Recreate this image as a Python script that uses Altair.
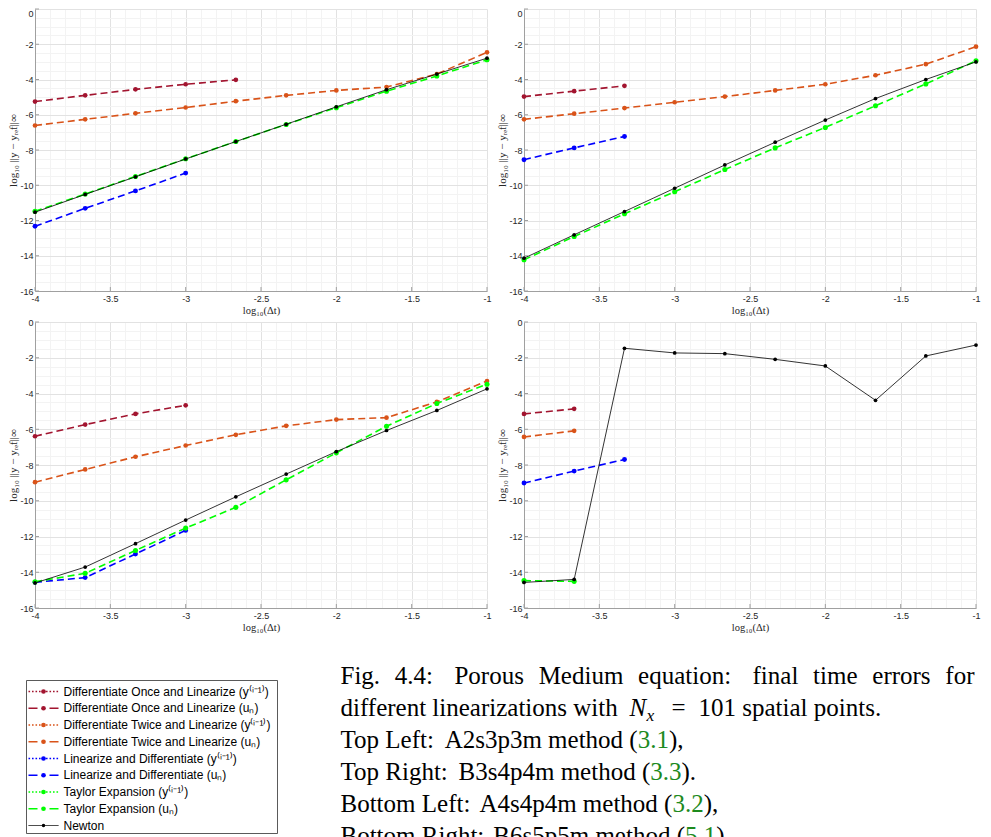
import altair as alt
import pandas as pd

# ---------------- data ----------------
LOG_DT = [-4.0, -3.667, -3.333, -3.0, -2.667, -2.333, -2.0, -1.667, -1.333, -1.0]

TL_ONCE = [-5.25, -4.90, -4.56, -4.27, -4.02]
TL_TWICE = [-6.61, -6.26, -5.92, -5.59, -5.23, -4.90, -4.62, -4.43, -3.69, -2.46]
TL_LIN = [-12.33, -11.31, -10.32, -9.31]
TL_TAYLOR = [-11.48, -10.50, -9.50, -8.50, -7.52, -6.55, -5.60, -4.66, -3.80, -2.88]
TL_NEWTON = [-11.53, -10.52, -9.52, -8.51, -7.52, -6.54, -5.55, -4.58, -3.69, -2.79]

TR_ONCE = [-4.97, -4.66, -4.36]
TR_TWICE = [-6.26, -5.94, -5.62, -5.29, -4.97, -4.62, -4.27, -3.76, -3.13, -2.14]
TR_LIN = [-8.55, -7.88, -7.23]
TR_TAYLOR = [-14.23, -12.91, -11.62, -10.37, -9.11, -7.88, -6.72, -5.49, -4.25, -2.94]
TR_NEWTON = [-14.14, -12.81, -11.49, -10.17, -8.85, -7.56, -6.30, -5.08, -4.00, -3.00]

BL_ONCE = [-6.39, -5.74, -5.14, -4.66]
BL_TWICE = [-8.96, -8.25, -7.54, -6.91, -6.31, -5.81, -5.46, -5.35, -4.47, -3.30]
BL_LIN = [-14.56, -14.30, -12.98, -11.66]
BL_TAYLOR = [-14.53, -14.06, -12.78, -11.53, -10.37, -8.83, -7.32, -5.83, -4.56, -3.48]
BL_NEWTON = [-14.60, -13.71, -12.40, -11.08, -9.78, -8.51, -7.25, -6.07, -4.95, -3.74]

BR_ONCE = [-5.14, -4.86]
BR_TWICE = [-6.43, -6.09]
BR_LIN = [-9.01, -8.34, -7.69]
BR_TAYLOR = [-14.47, -14.51]
BR_NEWTON = [-14.57, -14.40, -1.47, -1.73, -1.77, -2.09, -2.46, -4.38, -1.90, -1.29]

C_ONCE = "#A2142F"
C_TWICE = "#D95319"
C_LIN = "#0000FF"
C_TAYLOR = "#00FF00"
C_NEWTON = "#000000"

LEGEND_LABELS = [
    "Differentiate Once and Linearize (y\u207d\u2071\u207b\u00b9\u207e)",
    "Differentiate Once and Linearize (u\u2099)",
    "Differentiate Twice and Linearize (y\u207d\u2071\u207b\u00b9\u207e)",
    "Differentiate Twice and Linearize (u\u2099)",
    "Linearize and Differentiate (y\u207d\u2071\u207b\u00b9\u207e)",
    "Linearize and Differentiate (u\u2099)",
    "Taylor Expansion (y\u207d\u2071\u207b\u00b9\u207e)",
    "Taylor Expansion (u\u2099)",
    "Newton",
]
LEGEND_COLORS = [C_ONCE, C_ONCE, C_TWICE, C_TWICE, C_LIN, C_LIN, C_TAYLOR, C_TAYLOR, C_NEWTON]
LEGEND_STYLES = ["dot", "dash", "dot", "dash", "dot", "dash", "dot", "dash", "solid"]

CAP_LINE1 = ["Fig.", "4.4:", "Porous", "Medium", "equation:", "final", "time", "errors", "for"]
CAP_LINE2 = ["different linearizations with", "N", "x", "=", "101 spatial points."]
CAP_LINES = [
    ("Top Left:", "A2s3p3m method (", "3.1", "),"),
    ("Top Right:", "B3s4p4m method (", "3.3", ")."),
    ("Bottom Left:", "A4s4p4m method (", "3.2", "),"),
    ("Bottom Right:", "B6s5p5m method (", "5.1", ")."),
]
CITE_GREEN = "#1d8a1d"

# ---------------- layout ----------------
W, H1, H = 452, 282, 286
X0, Y0 = 35.5, 8.5              # image coordinates of the first plot's corner
ROW3_Y0 = Y0 + H1 + 31 + H + 31  # top of third grid row (image coords)

AX = "#a0a0a0"
LBL = "#262626"

XGRID = [round(-4 + 0.1 * i, 1) for i in range(31)]
YGRID = [-16 + 0.5 * i for i in range(33)]
XMAJ = [-4, -3.5, -3, -2.5, -2, -1.5, -1]
YMAJ = [-16, -14, -12, -10, -8, -6, -4, -2, 0]

x_major_test = "abs(datum.value*2 - round(datum.value*2)) < 0.001"
y_major_test = "datum.value % 2 === 0"

NOVIEW = {"stroke": "transparent", "strokeWidth": 0}

xaxis = alt.Axis(
    values=XGRID,
    labelExpr=f"{x_major_test} ? '' + datum.value : ''",
    gridColor={"condition": {"test": x_major_test, "value": "#e2e2e2"}, "value": "#f3f3f3"},
    grid=True, ticks=False, tickSize=0,
    domainColor=AX, domainWidth=1,
    labelFont="Liberation Sans", labelFontSize=9, labelColor=LBL, labelPadding=3,
    labelOverlap=False, labelFlush=False, labelBound=False,
    title="log\u2081\u2080(\u0394t)", titleFont="Liberation Serif", titleFontSize=10.5,
    titleFontWeight="normal", titleColor=LBL, titlePadding=2,
)


def make_yaxis(top_row):
    kw = {}
    if top_row:
        kw["labelOffset"] = {"condition": {"test": "datum.value === 0", "value": 4}, "value": 0}
    return alt.Axis(
        values=YGRID,
        labelExpr=f"{y_major_test} ? '' + datum.value : ''",
        gridColor={"condition": {"test": y_major_test, "value": "#e2e2e2"}, "value": "#f3f3f3"},
        grid=True, ticks=False, tickSize=0,
        domainColor=AX, domainWidth=1,
        labelFont="Liberation Sans", labelFontSize=9, labelColor=LBL, labelPadding=2,
        labelOverlap=False, labelFlush=False, labelBound=False,
        title="log\u2081\u2080 ||y \u2212 y\u1d63\u2091f||\u221e", titleFont="Liberation Serif",
        titleFontSize=11, titleFontWeight="normal", titleColor=LBL, titlePadding=1,
        **kw,
    )


xs = alt.Scale(domain=[-4, -1], nice=False, zero=False)
ys = alt.Scale(domain=[-16, 0], nice=False, zero=False)


def make_panel(once, twice, lin, taylor, newton, top_row):
    h = H1 if top_row else H
    yaxis = make_yaxis(top_row)

    def X():
        return alt.X("x:Q", scale=xs, axis=xaxis)

    def Y():
        return alt.Y("y:Q", scale=ys, axis=yaxis)

    layers = [
        alt.Chart(pd.DataFrame({"x": XMAJ})).mark_rule(color=AX, strokeWidth=1).encode(
            x=X(), y=alt.value(h), y2=alt.value(h - 4)),
        alt.Chart(pd.DataFrame({"y": YMAJ})).mark_rule(color=AX, strokeWidth=1).encode(
            y=Y(), x=alt.value(0), x2=alt.value(4)),
    ]
    for vals, color, sz in [(once, C_ONCE, 22), (twice, C_TWICE, 22), (lin, C_LIN, 24), (taylor, C_TAYLOR, 26)]:
        df = pd.DataFrame({"x": LOG_DT[:len(vals)], "y": vals})
        base = alt.Chart(df)
        layers.append(base.mark_line(color=color, strokeDash=[7, 4], strokeWidth=1.6).encode(x=X(), y=Y()))
        layers.append(base.mark_point(filled=True, color=color, size=sz, opacity=1).encode(x=X(), y=Y()))
    df = pd.DataFrame({"x": LOG_DT[:len(newton)], "y": newton})
    base = alt.Chart(df)
    layers.append(base.mark_line(color=C_NEWTON, strokeWidth=0.8).encode(x=X(), y=Y()))
    layers.append(base.mark_point(filled=True, color=C_NEWTON, size=14, opacity=1).encode(x=X(), y=Y()))
    return alt.layer(*layers).properties(width=W, height=h, view=NOVIEW)


p1 = make_panel(TL_ONCE, TL_TWICE, TL_LIN, TL_TAYLOR, TL_NEWTON, True)
p2 = make_panel(TR_ONCE, TR_TWICE, TR_LIN, TR_TAYLOR, TR_NEWTON, True)
p3 = make_panel(BL_ONCE, BL_TWICE, BL_LIN, BL_TAYLOR, BL_NEWTON, False)
p4 = make_panel(BR_ONCE, BR_TWICE, BR_LIN, BR_TAYLOR, BR_NEWTON, False)

# ---------------- legend + caption (third row) ----------------
def rx(v):
    return v - X0


def ry(v):
    return v - ROW3_Y0


LEG_BOX = (27, 680, 278, 833)
LEG_ROW0, LEG_STEP = 691, 16.75
LEG_L0, LEG_L1, LEG_DOT, LEG_TXT = 29, 59, 44, 64

box_df = pd.DataFrame({"x": [rx(LEG_BOX[0])], "x2": [rx(LEG_BOX[2])],
                       "y": [ry(LEG_BOX[1])], "y2": [ry(LEG_BOX[3])]})
leg_rows = []
for i, (lab, col, sty) in enumerate(zip(LEGEND_LABELS, LEGEND_COLORS, LEGEND_STYLES)):
    yy = ry(LEG_ROW0 + LEG_STEP * i)
    leg_rows.append({"label": lab, "color": col, "style": sty, "y": yy,
                     "xa": rx(LEG_L0), "xb": rx(LEG_L1), "xd": rx(LEG_DOT), "xt": rx(LEG_TXT),
                     "size": 12 if sty == "solid" else 22})
leg_df = pd.DataFrame(leg_rows)


def PX(f):
    return alt.X(f, scale=None, axis=None)


def PY(f):
    return alt.Y(f, scale=None, axis=None)


legend_layers = [
    alt.Chart(box_df).mark_rect(fill="white", stroke="#303030", strokeWidth=0.8).encode(
        x=PX("x:Q"), x2="x2:Q", y=PY("y:Q"), y2="y2:Q"),
]
for sty, dash, wid in [("dot", [1.6, 1.9], 1.6), ("dash", [9, 12], 1.6), ("solid", [1, 0], 0.9)]:
    legend_layers.append(
        alt.Chart(leg_df).transform_filter(alt.datum.style == sty).mark_rule(strokeDash=dash, strokeWidth=wid).encode(
            x=PX("xa:Q"), x2="xb:Q", y=PY("y:Q"), color=alt.Color("color:N", scale=None)))
legend_layers.append(
    alt.Chart(leg_df).mark_point(filled=True, opacity=1).encode(
        x=PX("xd:Q"), y=PY("y:Q"), color=alt.Color("color:N", scale=None), size=alt.Size("size:Q", scale=None)))
legend_layers.append(
    alt.Chart(leg_df).mark_text(font="Liberation Sans", fontSize=12, align="left", baseline="middle", color="#000000").encode(
        x=PX("xt:Q"), y=PY("y:Q"), text="label:N"))

# caption (Times metrics; Liberation Serif is metric compatible)
TIMES = {" ": 250, ".": 250, ",": 250, ":": 278, "(": 333, ")": 333, "=": 564}
for c, w in zip("ABCDEFGHIJKLMNOPQRSTUVWXYZ",
                [722, 667, 667, 722, 611, 556, 722, 722, 333, 389, 722, 611, 889, 722, 722, 556, 722, 667, 556, 611, 722, 722, 944, 722, 722, 611]):
    TIMES[c] = w
for c, w in zip("abcdefghijklmnopqrstuvwxyz",
                [444, 500, 444, 500, 444, 333, 500, 500, 278, 278, 500, 278, 778, 500, 500, 500, 500, 333, 389, 278, 500, 500, 722, 500, 500, 444]):
    TIMES[c] = w
for c in "0123456789":
    TIMES[c] = 500


def tw(s, fs):
    return sum(TIMES.get(c, 500) for c in s) * fs / 1000.0


FS = 25
CAP_X0, CAP_X1 = 341, 975
BASE = [683 + 32 * i for i in range(6)]

segs = []
isegs = []
# line 1 (justified)
wsum = sum(tw(w, FS) for w in CAP_LINE1)
weights = [1.45 if CAP_LINE1[i].endswith(":") else 1.0 for i in range(len(CAP_LINE1) - 1)]
unit = (CAP_X1 - CAP_X0 - wsum) / sum(weights)
xx = CAP_X0
for i, w in enumerate(CAP_LINE1):
    segs.append({"x": rx(xx), "y": ry(BASE[0]), "text": w, "color": "#000000", "size": FS})
    xx += tw(w, FS) + (unit * weights[i] if i < len(weights) else 0)
# line 2 (positions of the math part as seen in the reference)
L2_X = [CAP_X0, 630, 647, 672, 699]
segs.append({"x": rx(L2_X[0]), "y": ry(BASE[1]), "text": CAP_LINE2[0], "color": "#000000", "size": FS})
isegs.append({"x": rx(L2_X[1]), "y": ry(BASE[1]), "text": CAP_LINE2[1], "size": FS})
isegs.append({"x": rx(L2_X[2]), "y": ry(BASE[1] + 0.2 * FS), "text": CAP_LINE2[2], "size": FS * 0.7})
segs.append({"x": rx(L2_X[3]), "y": ry(BASE[1]), "text": CAP_LINE2[3], "color": "#000000", "size": FS})
segs.append({"x": rx(L2_X[4]), "y": ry(BASE[1]), "text": CAP_LINE2[4], "color": "#000000", "size": FS})
# lines 3-6
for k, (head, mid, num, tail) in enumerate(CAP_LINES):
    b = BASE[2 + k]
    xx = CAP_X0
    segs.append({"x": rx(xx), "y": ry(b), "text": head, "color": "#000000", "size": FS})
    xx += tw(head, FS) + 0.36 * FS
    segs.append({"x": rx(xx), "y": ry(b), "text": mid, "color": "#000000", "size": FS})
    xx += tw(mid, FS)
    segs.append({"x": rx(xx), "y": ry(b), "text": num, "color": CITE_GREEN, "size": FS})
    xx += tw(num, FS)
    segs.append({"x": rx(xx), "y": ry(b), "text": tail, "color": "#000000", "size": FS})

seg_df = pd.DataFrame(segs)
iseg_df = pd.DataFrame(isegs)

caption_layers = [
    alt.Chart(seg_df).mark_text(font="Liberation Serif", align="left", baseline="alphabetic").encode(
        x=PX("x:Q"), y=PY("y:Q"), text="text:N",
        color=alt.Color("color:N", scale=None), size=alt.Size("size:Q", scale=None)),
    alt.Chart(iseg_df).mark_text(font="Liberation Serif", fontStyle="italic", align="left",
                                 baseline="alphabetic", color="#000000").encode(
        x=PX("x:Q"), y=PY("y:Q"), text="text:N", size=alt.Size("size:Q", scale=None)),
]

row3 = alt.layer(*legend_layers, *caption_layers).properties(width=W, height=190, view=NOVIEW)

chart = alt.concat(
    p1, p2, p3, p4, row3, columns=2, spacing={"row": 31, "column": 37}, bounds="flush"
).properties(
    padding={"left": -1, "top": 0, "right": 0, "bottom": 0}
).configure(background="white").configure_view(strokeWidth=0, stroke="transparent")

chart.save("out.html", embed_options={"renderer": "svg", "actions": False})
